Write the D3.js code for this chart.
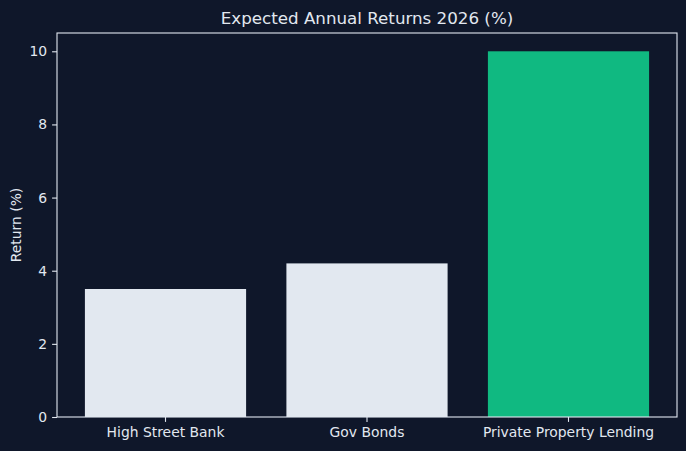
<!DOCTYPE html>
<html>
<head>
<meta charset="utf-8">
<script src="https://cdn.jsdelivr.net/npm/d3@7"></script>
<style>
  html, body { margin: 0; padding: 0; background: #0f172a; }
  svg text { font-family: "DejaVu Sans", sans-serif; fill: #e2e8f0; }
</style>
</head>
<body>
<div id="chart"></div>
<script>
// Data
const categories = ["High Street Bank", "Gov Bonds", "Private Property Lending"];
const returns = [3.5, 4.2, 10.0];
const barColors = ["#e2e8f0", "#e2e8f0", "#10b981"];
const yTicks = [0, 2, 4, 6, 8, 10];

const width = 686, height = 451;
const margin = { top: 33, right: 9, bottom: 34, left: 57 };

const svg = d3.select("#chart")
    .append("svg")
    .attr("width", width)
    .attr("height", height);

svg.append("rect")
    .attr("width", width)
    .attr("height", height)
    .attr("fill", "#0f172a");

const x = d3.scaleBand()
    .domain(categories)
    .range([margin.left, width - margin.right])
    .paddingInner(0.2)
    .paddingOuter(0.1385);

const y = d3.scaleLinear()
    .domain([0, 10.5])
    .range([height - margin.bottom, margin.top]);

// Bars
svg.append("g").selectAll("rect")
    .data(categories)
    .join("rect")
    .attr("x", d => x(d))
    .attr("y", (d, i) => y(returns[i]))
    .attr("width", x.bandwidth())
    .attr("height", (d, i) => y(0) - y(returns[i]))
    .attr("fill", (d, i) => barColors[i]);

// Axes
const xAxis = svg.append("g")
    .attr("transform", `translate(0,${height - margin.bottom})`)
    .call(d3.axisBottom(x).tickSize(4.9).tickPadding(4.9));

const yAxis = svg.append("g")
    .attr("transform", `translate(${margin.left},0)`)
    .call(d3.axisLeft(y).tickValues(yTicks).tickSize(4.9).tickPadding(4.9));

[xAxis, yAxis].forEach(g => {
    g.select(".domain").remove();
    g.selectAll(".tick line").attr("stroke", "#e2e8f0").attr("stroke-width", 1.1);
    g.selectAll(".tick text").style("font-size", "13.9px").attr("fill", "#e2e8f0");
});

// Frame
svg.append("rect")
    .attr("x", margin.left)
    .attr("y", margin.top)
    .attr("width", width - margin.left - margin.right)
    .attr("height", height - margin.top - margin.bottom)
    .attr("fill", "none")
    .attr("stroke", "#e2e8f0")
    .attr("stroke-width", 1.1);

// Title
svg.append("text")
    .attr("x", (margin.left + width - margin.right) / 2)
    .attr("y", 24)
    .attr("text-anchor", "middle")
    .style("font-size", "16.7px")
    .text("Expected Annual Returns 2026 (%)");

// Y label
svg.append("text")
    .attr("transform", `translate(21,${(margin.top + height - margin.bottom) / 2}) rotate(-90)`)
    .attr("text-anchor", "middle")
    .style("font-size", "13.9px")
    .text("Return (%)");
</script>
</body>
</html>
